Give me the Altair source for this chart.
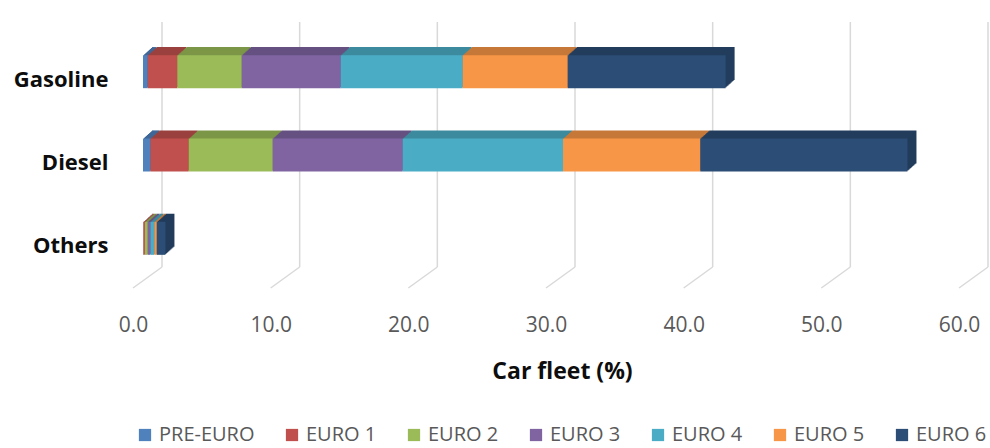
import altair as alt
import pandas as pd

categories = ["Gasoline", "Diesel", "Others"]
series = ["PRE-EURO", "EURO 1", "EURO 2", "EURO 3", "EURO 4", "EURO 5", "EURO 6"]
gasoline = [0.34, 2.15, 4.68, 7.19, 8.86, 7.63, 11.47]
diesel = [0.54, 2.78, 6.10, 9.44, 11.65, 9.97, 15.05]
others = [0.02, 0.12, 0.20, 0.20, 0.29, 0.17, 0.63]
front_colors = ["#4F81BD", "#C0504D", "#9BBB59", "#8064A2", "#4BACC6", "#F79646", "#2C4D75"]
top_colors = ["#3F6797", "#9A403E", "#7C9647", "#665082", "#3C8A9E", "#C67838", "#223C5C"]
x_ticks = [0, 10, 20, 30, 40, 50, 60]

rows = []
for cat, vals in zip(categories, [gasoline, diesel, others]):
    start = 0.0
    for i, (s, v) in enumerate(zip(series, vals)):
        rows.append({"cat": cat, "series": s, "order": i, "x0": start, "x1": start + v,
                     "top": top_colors[i]})
        start += v
bars = pd.DataFrame(rows)
ticks = pd.DataFrame({"v": x_ticks})

W, H = 826, 250
xscale = alt.Scale(domain=[0, 60], nice=False, zero=True)
yscale = alt.Scale(domain=categories, paddingInner=0, paddingOuter=0)

x_axis = alt.Axis(values=x_ticks, format=".1f", grid=False, domain=False, ticks=False,
                  labelFont="Open Sans", labelFontSize=21, labelColor="#595959",
                  labelPadding=26, labelFlush=False,
                  title="Car fleet (%)", titleFont="Open Sans", titleFontWeight="bold",
                  titleFontSize=23, titleColor="#0D0D0D", titleX=429, titleY=90,
                  titleBaseline="alphabetic", titleAlign="center")
y_axis = alt.Axis(grid=False, domain=False, ticks=False, labelFont="Open Sans",
                  labelFontWeight="bold", labelFontSize=22, labelColor="#0D0D0D",
                  labelPadding=25, title=None)

grid_back = alt.Chart(ticks).mark_rule(color="#D9D9D9", strokeWidth=1.5, xOffset=29).encode(
    x=alt.X("v:Q", scale=xscale, axis=x_axis),
    y=alt.value(-16), y2=alt.value(229))
grid_floor = alt.Chart(ticks).mark_rule(color="#D9D9D9", strokeWidth=1.5, xOffset=29, x2Offset=0).encode(
    x=alt.X("v:Q", scale=xscale), x2="v:Q",
    y=alt.value(229), y2=alt.value(250))

layers = [grid_back, grid_floor]
DX, DY = 10, -8
for k in range(9, 0, -1):
    layers.append(
        alt.Chart(bars).mark_bar(size=33, xOffset=DX + k, x2Offset=DX + k,
                                 yOffset=DY - 0.9 * k, y2Offset=DY - 0.9 * k).encode(
            y=alt.Y("cat:N", scale=yscale, axis=y_axis, sort=categories),
            x=alt.X("x0:Q", scale=xscale),
            x2="x1:Q",
            color=alt.Color("top:N", scale=None),
        )
    )
front = alt.Chart(bars).mark_bar(size=33, xOffset=DX, x2Offset=DX, yOffset=DY, y2Offset=DY).encode(
    y=alt.Y("cat:N", scale=yscale, axis=y_axis, sort=categories),
    x=alt.X("x0:Q", scale=xscale),
    x2="x1:Q",
    color=alt.Color("series:N", scale=alt.Scale(domain=series, range=front_colors),
                    legend=alt.Legend(orient="none", legendX=2, legendY=387, direction="horizontal",
                                      columns=7, title=None, symbolType="square", symbolSize=150,
                                      symbolStrokeWidth=0, labelFont="Open Sans", labelFontSize=20,
                                      labelColor="#595959", labelOffset=4, columnPadding=27)),
)
layers.append(front)

chart = alt.layer(*layers).properties(
    width=W, height=H,
    autosize=alt.AutoSizeParams(type="none"),
    padding={"left": 133, "top": 38, "right": 990 - 133 - W, "bottom": 448 - 38 - H},
).configure_view(stroke=None)

chart.save("out.html", embed_options={"renderer": "svg", "actions": False})
